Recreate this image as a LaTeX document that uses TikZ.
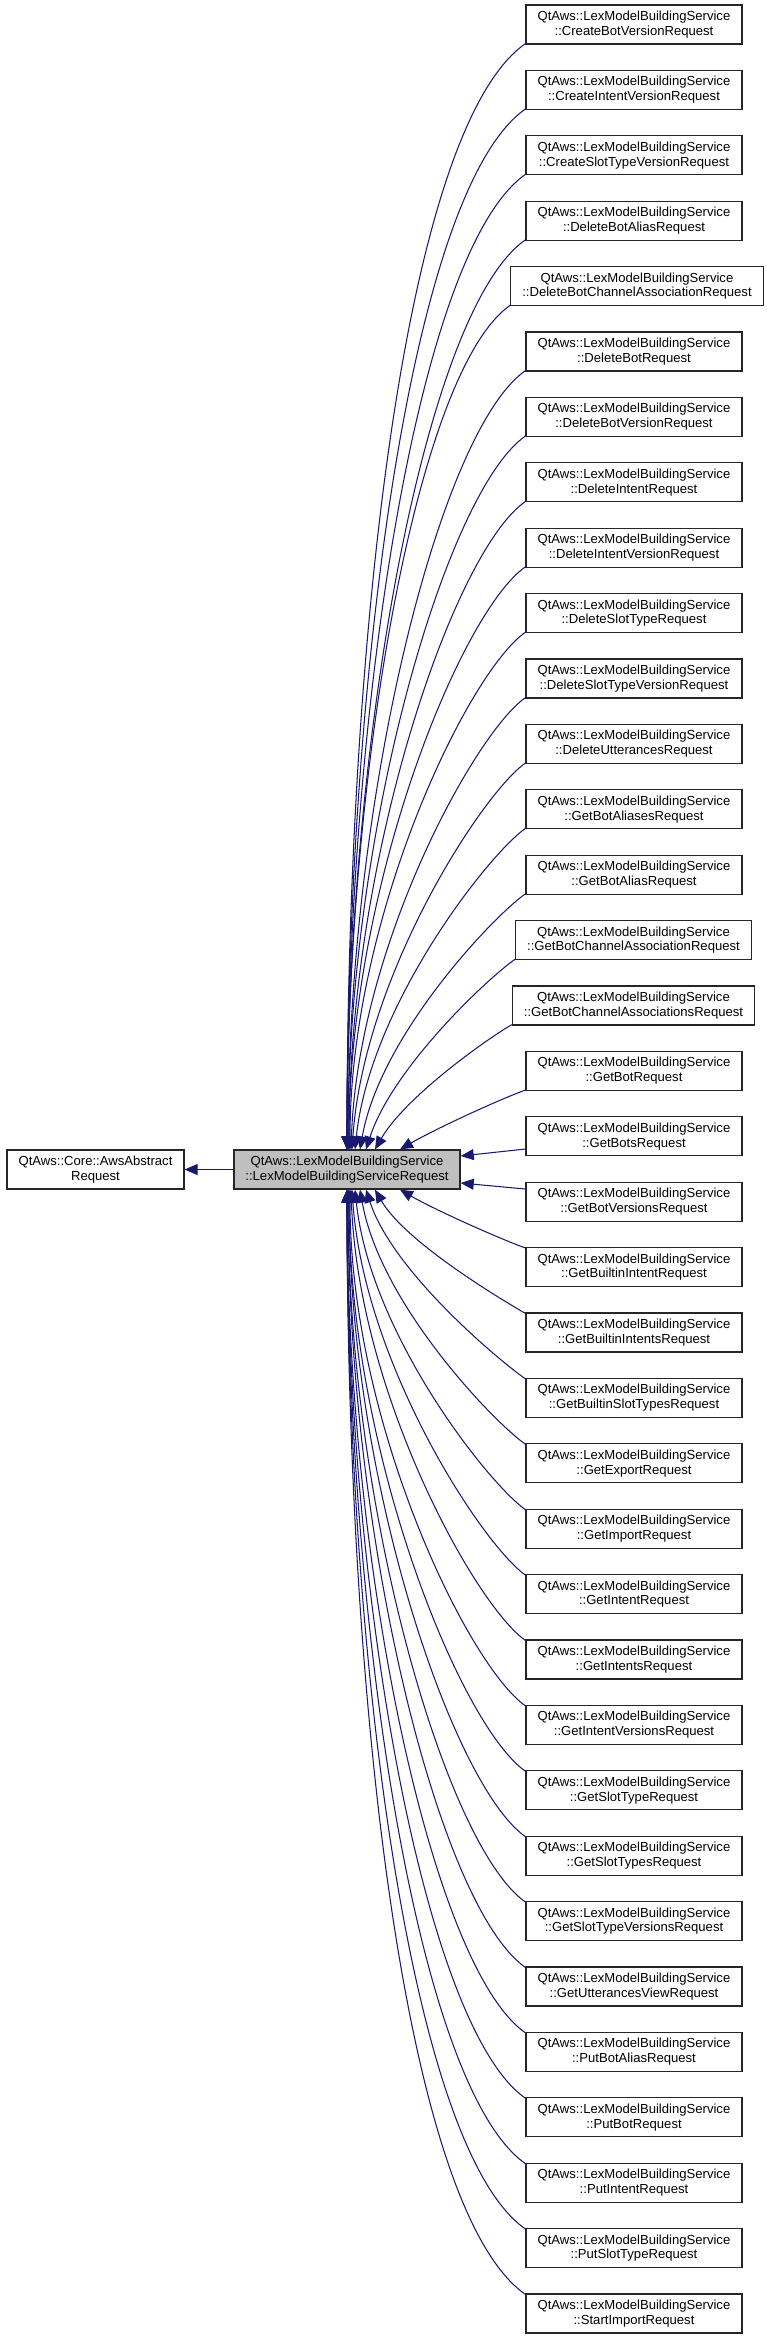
\documentclass[tikz,border=0pt]{standalone}
\usepackage{fontspec}
\setmainfont{Liberation Sans}
\usepackage{tikz}
\usetikzlibrary{arrows.meta,positioning}
\definecolor{edgeblue}{HTML}{191970}
\tikzset{
  cls/.style={draw=black!85,line width=0.26pt,fill=white,align=center,minimum height=7.8pt,inner xsep=2.3pt,inner ysep=0.4pt,font=\fontsize{2.62}{2.94}\selectfont},
  sub/.style={cls,minimum width=43.2pt},
  cur/.style={cls,fill=black!25},
  inh/.style={draw=edgeblue,line width=0.21pt,-{Triangle[length=2.6pt,width=2.2pt]}},
}
\begin{document}
\begin{tikzpicture}[x=0.2pt,y=0.2pt]
\useasboundingbox (0,0) rectangle (767,-2339);
\node[cur] (lmbsreq) at (347,-1169.5) {QtAws::LexModelBuildingService\\::LexModelBuildingServiceRequest};
\node[cls] (awsreq) at (95.5,-1169.5) {QtAws::Core::AwsAbstract\\Request};
\draw[inh] (lmbsreq) -- (awsreq);
% derived request classes
\node[sub] (cbotver) at (634,-24.5) {QtAws::LexModelBuildingService\\::CreateBotVersionRequest};
\node[sub] (cintver) at (634,-89.9) {QtAws::LexModelBuildingService\\::CreateIntentVersionRequest};
\node[sub] (cslotver) at (634,-155.3) {QtAws::LexModelBuildingService\\::CreateSlotTypeVersionRequest};
\node[sub] (dbotalias) at (634,-220.7) {QtAws::LexModelBuildingService\\::DeleteBotAliasRequest};
\node[sub] (dbotchan) at (637,-286.1) {QtAws::LexModelBuildingService\\::DeleteBotChannelAssociationRequest};
\node[sub] (dbot) at (634,-351.5) {QtAws::LexModelBuildingService\\::DeleteBotRequest};
\node[sub] (dbotver) at (634,-416.9) {QtAws::LexModelBuildingService\\::DeleteBotVersionRequest};
\node[sub] (dint) at (634,-482.3) {QtAws::LexModelBuildingService\\::DeleteIntentRequest};
\node[sub] (dintver) at (634,-547.7) {QtAws::LexModelBuildingService\\::DeleteIntentVersionRequest};
\node[sub] (dslot) at (634,-613.1) {QtAws::LexModelBuildingService\\::DeleteSlotTypeRequest};
\node[sub] (dslotver) at (634,-678.5) {QtAws::LexModelBuildingService\\::DeleteSlotTypeVersionRequest};
\node[sub] (dutter) at (634,-743.9) {QtAws::LexModelBuildingService\\::DeleteUtterancesRequest};
\node[sub] (gbotaliases) at (634,-809.3) {QtAws::LexModelBuildingService\\::GetBotAliasesRequest};
\node[sub] (gbotalias) at (634,-874.7) {QtAws::LexModelBuildingService\\::GetBotAliasRequest};
\node[sub] (gbotchan) at (633.5,-940.1) {QtAws::LexModelBuildingService\\::GetBotChannelAssociationRequest};
\node[sub] (gbotchans) at (633.5,-1005.5) {QtAws::LexModelBuildingService\\::GetBotChannelAssociationsRequest};
\node[sub] (gbot) at (634,-1070.9) {QtAws::LexModelBuildingService\\::GetBotRequest};
\node[sub] (gbots) at (634,-1136.3) {QtAws::LexModelBuildingService\\::GetBotsRequest};
\node[sub] (gbotvers) at (634,-1201.7) {QtAws::LexModelBuildingService\\::GetBotVersionsRequest};
\node[sub] (gbint) at (634,-1267.1) {QtAws::LexModelBuildingService\\::GetBuiltinIntentRequest};
\node[sub] (gbints) at (634,-1332.5) {QtAws::LexModelBuildingService\\::GetBuiltinIntentsRequest};
\node[sub] (gbslots) at (634,-1397.9) {QtAws::LexModelBuildingService\\::GetBuiltinSlotTypesRequest};
\node[sub] (gexport) at (634,-1463.3) {QtAws::LexModelBuildingService\\::GetExportRequest};
\node[sub] (gimport) at (634,-1528.7) {QtAws::LexModelBuildingService\\::GetImportRequest};
\node[sub] (gint) at (634,-1594.1) {QtAws::LexModelBuildingService\\::GetIntentRequest};
\node[sub] (gints) at (634,-1659.5) {QtAws::LexModelBuildingService\\::GetIntentsRequest};
\node[sub] (gintvers) at (634,-1724.9) {QtAws::LexModelBuildingService\\::GetIntentVersionsRequest};
\node[sub] (gslot) at (634,-1790.3) {QtAws::LexModelBuildingService\\::GetSlotTypeRequest};
\node[sub] (gslots) at (634,-1855.7) {QtAws::LexModelBuildingService\\::GetSlotTypesRequest};
\node[sub] (gslotvers) at (634,-1921.1) {QtAws::LexModelBuildingService\\::GetSlotTypeVersionsRequest};
\node[sub] (gutter) at (634,-1986.5) {QtAws::LexModelBuildingService\\::GetUtterancesViewRequest};
\node[sub] (pbotalias) at (634,-2051.9) {QtAws::LexModelBuildingService\\::PutBotAliasRequest};
\node[sub] (pbot) at (634,-2117.3) {QtAws::LexModelBuildingService\\::PutBotRequest};
\node[sub] (pint) at (634,-2182.7) {QtAws::LexModelBuildingService\\::PutIntentRequest};
\node[sub] (pslot) at (634,-2248.1) {QtAws::LexModelBuildingService\\::PutSlotTypeRequest};
\node[sub] (simport) at (634,-2313.5) {QtAws::LexModelBuildingService\\::StartImportRequest};
% upper edges, into the top side
\draw[inh] ([yshift=0.2pt]cbotver.south west) to[out=215,in=90,out distance=30pt,in distance=100pt] (lmbsreq.north);
\draw[inh] ([yshift=0.2pt]cintver.south west) to[out=215,in=90,out distance=28.2pt,in distance=93.8pt] (lmbsreq.north);
\draw[inh] ([yshift=0.2pt]cslotver.south west) to[out=215,in=90,out distance=26.4pt,in distance=87.8pt] (lmbsreq.north);
\draw[inh] ([yshift=0.2pt]dbotalias.south west) to[out=215,in=90,out distance=24.6pt,in distance=82pt] (lmbsreq.north);
\draw[inh] ([yshift=0.2pt]dbotchan.south west) to[out=215,in=90,out distance=22.8pt,in distance=76pt] (lmbsreq.north);
\draw[inh] ([yshift=0.2pt]dbot.south west) to[out=215,in=90,out distance=21pt,in distance=70.2pt] ([xshift=0.2pt]lmbsreq.north);
\draw[inh] ([yshift=0.2pt]dbotver.south west) to[out=215,in=90,out distance=19.2pt,in distance=64.4pt] ([xshift=0.2pt]lmbsreq.north);
\draw[inh] ([yshift=0.2pt]dint.south west) to[out=215,in=90,out distance=17.6pt,in distance=58.4pt] ([xshift=0.4pt]lmbsreq.north);
\draw[inh] ([yshift=0.2pt]dintver.south west) to[out=215,in=90,out distance=15.8pt,in distance=52.6pt] ([xshift=0.4pt]lmbsreq.north);
\draw[inh] ([yshift=0.2pt]dslot.south west) to[out=215,in=90,out distance=14pt,in distance=46.6pt] ([xshift=0.6pt]lmbsreq.north);
\draw[inh] ([yshift=0.2pt]dslotver.south west) to[out=215,in=88,out distance=12.2pt,in distance=40.8pt] ([xshift=0.8pt]lmbsreq.north);
\draw[inh] ([yshift=0.2pt]dutter.south west) to[out=215,in=86,out distance=10.4pt,in distance=35pt] ([xshift=1pt]lmbsreq.north);
\draw[inh] ([yshift=0.2pt]gbotaliases.south west) to[out=215,in=84,out distance=9pt,in distance=29pt] ([xshift=1.6pt]lmbsreq.north);
\draw[inh] ([yshift=0.2pt]gbotalias.south west) to[out=215,in=80,out distance=8pt,in distance=23pt] ([xshift=2.6pt]lmbsreq.north);
\draw[inh] ([yshift=0.2pt]gbotchan.south west) to[out=215,in=72,out distance=7pt,in distance=17pt] ([xshift=3.8pt]lmbsreq.north);
\draw[inh] ([yshift=0.2pt]gbotchans.south west) to[out=210,in=60,out distance=6pt,in distance=12pt] ([xshift=5.6pt]lmbsreq.north);
\draw[inh] ([yshift=0.2pt]gbot.south west) to[out=200,in=30,out distance=6pt,in distance=8pt] ([xshift=10.6pt]lmbsreq.north);
% the two nearest, into the right side
\draw[inh] ([yshift=-2.54pt]gbots.west) -- ([yshift=2.7pt]lmbsreq.east);
\draw[inh] ([yshift=2.54pt]gbotvers.west) -- ([yshift=-2.7pt]lmbsreq.east);
% lower edges, into the bottom side
\draw[inh] ([yshift=-0.2pt]gbint.north west) to[out=160,in=330,out distance=6pt,in distance=8pt] ([xshift=10.6pt]lmbsreq.south);
\draw[inh] ([yshift=-0.2pt]gbints.north west) to[out=150,in=300,out distance=6pt,in distance=12pt] ([xshift=5.6pt]lmbsreq.south);
\draw[inh] ([yshift=-0.2pt]gbslots.north west) to[out=145,in=288,out distance=7pt,in distance=17pt] ([xshift=3.8pt]lmbsreq.south);
\draw[inh] ([yshift=-0.2pt]gexport.north west) to[out=145,in=280,out distance=8pt,in distance=23pt] ([xshift=2.6pt]lmbsreq.south);
\draw[inh] ([yshift=-0.2pt]gimport.north west) to[out=145,in=276,out distance=9pt,in distance=29pt] ([xshift=1.6pt]lmbsreq.south);
\draw[inh] ([yshift=-0.2pt]gint.north west) to[out=145,in=274,out distance=10.4pt,in distance=35pt] ([xshift=1pt]lmbsreq.south);
\draw[inh] ([yshift=-0.2pt]gints.north west) to[out=145,in=272,out distance=12.2pt,in distance=40.8pt] ([xshift=0.8pt]lmbsreq.south);
\draw[inh] ([yshift=-0.2pt]gintvers.north west) to[out=145,in=270,out distance=14pt,in distance=46.6pt] ([xshift=0.6pt]lmbsreq.south);
\draw[inh] ([yshift=-0.2pt]gslot.north west) to[out=145,in=270,out distance=15.8pt,in distance=52.6pt] ([xshift=0.4pt]lmbsreq.south);
\draw[inh] ([yshift=-0.2pt]gslots.north west) to[out=145,in=270,out distance=17.6pt,in distance=58.4pt] ([xshift=0.4pt]lmbsreq.south);
\draw[inh] ([yshift=-0.2pt]gslotvers.north west) to[out=145,in=270,out distance=19.2pt,in distance=64.4pt] ([xshift=0.2pt]lmbsreq.south);
\draw[inh] ([yshift=-0.2pt]gutter.north west) to[out=145,in=270,out distance=21pt,in distance=70.2pt] ([xshift=0.2pt]lmbsreq.south);
\draw[inh] ([yshift=-0.2pt]pbotalias.north west) to[out=145,in=270,out distance=22.8pt,in distance=76pt] (lmbsreq.south);
\draw[inh] ([yshift=-0.2pt]pbot.north west) to[out=145,in=270,out distance=24.6pt,in distance=82pt] (lmbsreq.south);
\draw[inh] ([yshift=-0.2pt]pint.north west) to[out=145,in=270,out distance=26.4pt,in distance=87.8pt] (lmbsreq.south);
\draw[inh] ([yshift=-0.2pt]pslot.north west) to[out=145,in=270,out distance=28.2pt,in distance=93.8pt] (lmbsreq.south);
\draw[inh] ([yshift=-0.2pt]simport.north west) to[out=145,in=270,out distance=30pt,in distance=100pt] (lmbsreq.south);
\end{tikzpicture}
\end{document}
